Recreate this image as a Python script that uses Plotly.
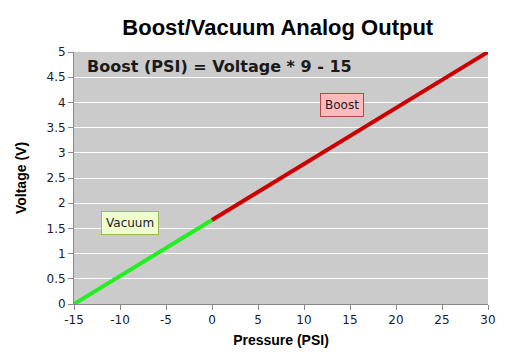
import plotly.graph_objects as go

vacuum_psi = [-15, 0]
vacuum_volt = [0, 1.6667]
boost_psi = [0, 30]
boost_volt = [1.6667, 5]

x_ticks = [-15, -10, -5, 0, 5, 10, 15, 20, 25, 30]
y_ticks = [0, 0.5, 1, 1.5, 2, 2.5, 3, 3.5, 4, 4.5, 5]

fig = go.Figure()
fig.add_trace(go.Scatter(x=vacuum_psi, y=vacuum_volt, mode="lines",
                         line=dict(color="#22EE22", width=4), showlegend=False))
fig.add_trace(go.Scatter(x=boost_psi, y=boost_volt, mode="lines",
                         line=dict(color="#CC0000", width=4), showlegend=False))

tick_font = dict(family="DejaVu Sans, Verdana, sans-serif", size=12, color="#1a1a2e")
fig.update_xaxes(range=[-15, 30], tickvals=x_ticks, ticktext=[str(v) for v in x_ticks],
                 showgrid=False, zeroline=False, automargin=False,
                 showline=True, linecolor="#888888", linewidth=1,
                 ticks="outside", ticklen=5, tickcolor="#888888", tickfont=tick_font,
                 title=dict(text="<b>Pressure (PSI)</b>", font=dict(family="Arial, Liberation Sans", size=14, color="#000"), standoff=8))
fig.update_yaxes(range=[0, 5], tickvals=y_ticks, ticktext=[f"{v:g}" for v in y_ticks],
                 showgrid=True, gridcolor="#FFFFFF", gridwidth=1, zeroline=False, automargin=False,
                 showline=True, linecolor="#888888", linewidth=1,
                 ticks="outside", ticklen=5, tickcolor="#888888", tickfont=tick_font,
                 title=dict(text="<b>Voltage (V)</b>", font=dict(family="Arial, Liberation Sans", size=14, color="#000"), standoff=16))

fig.add_annotation(x=0.027, y=0.944, xref="paper", yref="paper", xanchor="left", yanchor="middle",
                   text="<b>Boost (PSI) = Voltage * 9 - 15</b>", showarrow=False,
                   font=dict(family="DejaVu Sans, Verdana", size=16, color="#1a1a1a"))
fig.add_annotation(x=-8.9, y=1.61, text="Vacuum", showarrow=False,
                   font=dict(family="DejaVu Sans, Verdana", size=12, color="#1a1a2e"),
                   bgcolor="#EEFFCC", bordercolor="#99BB55", borderwidth=1, borderpad=4)
fig.add_annotation(x=14.1, y=3.94, text="Boost", showarrow=False,
                   font=dict(family="DejaVu Sans, Verdana", size=12, color="#1a1a2e"),
                   bgcolor="#FFBBBB", bordercolor="#BB4444", borderwidth=1, borderpad=4)

fig.update_layout(
    width=508, height=363,
    margin=dict(l=66, r=28, t=44, b=67),
    paper_bgcolor="#FFFFFF", plot_bgcolor="#CBCBCB",
    title=dict(text="<b>Boost/Vacuum Analog Output</b>", x=0.531, xanchor="center", y=0.948, yanchor="middle",
               font=dict(family="Arial, Liberation Sans", size=22, color="#000")),
)
fig.write_html("out.html")
